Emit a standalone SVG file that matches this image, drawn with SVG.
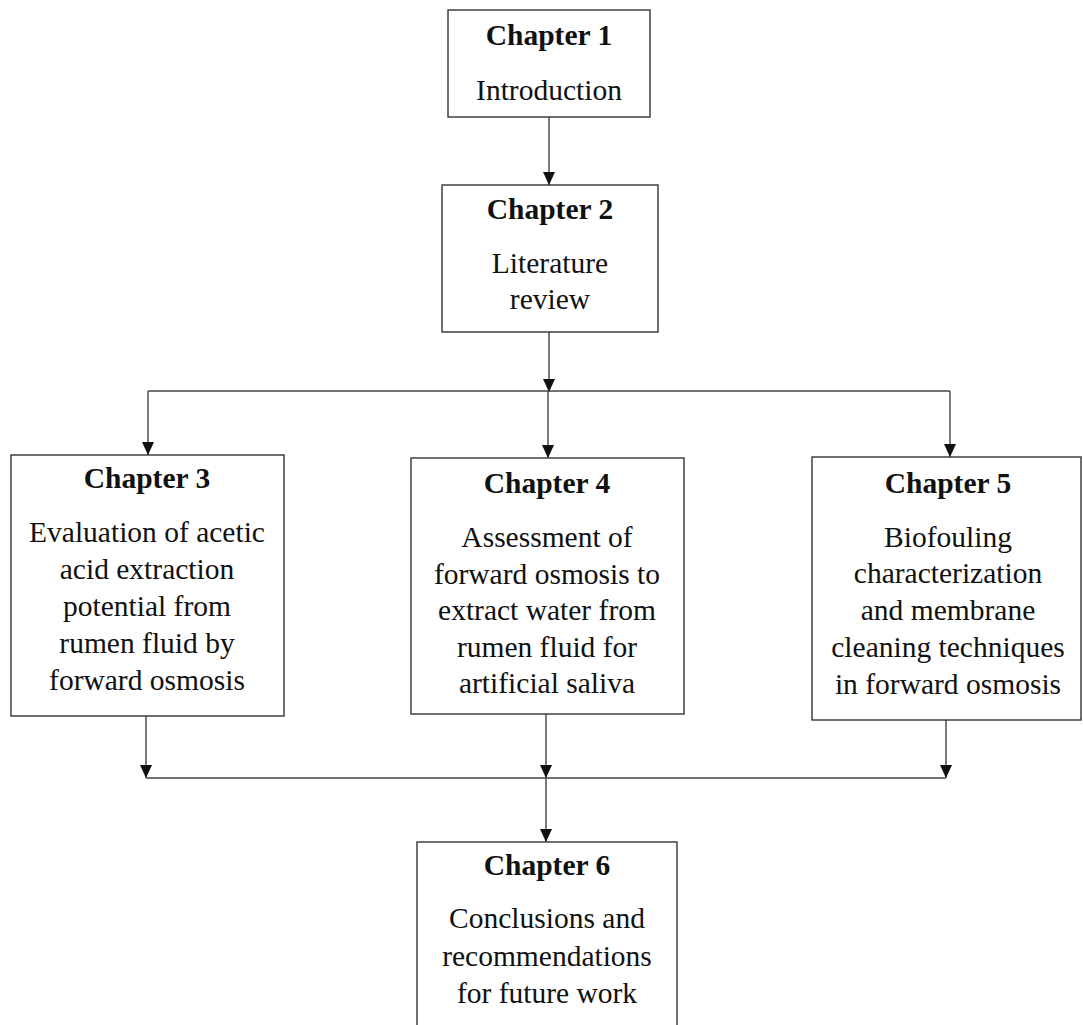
<svg xmlns="http://www.w3.org/2000/svg" width="1083" height="1025" viewBox="0 0 1083 1025">
<style>
.box{fill:#fff;stroke:#333;stroke-width:1.4}
.t{font-family:"Liberation Serif","Times New Roman",serif;font-size:29.5px;fill:#111;text-anchor:middle}
.h{font-weight:bold}
.c{fill:none;stroke:#444;stroke-width:1.4}
.a{marker-end:url(#arr)}
</style>
<defs>
<marker id="arr" markerUnits="userSpaceOnUse" markerWidth="13" markerHeight="12" viewBox="0 0 13 12" refX="13" refY="6" orient="auto">
<path d="M0,0 L13,6 L0,12 Z" fill="#111"/>
</marker>
</defs>
<rect width="1083" height="1025" fill="#fff"/>
<g id="connectors">
<line class="c a" x1="549" y1="117" x2="549" y2="185"/>
<line class="c a" x1="549" y1="332" x2="549" y2="392"/>
<line class="c" x1="148" y1="391" x2="950" y2="391"/>
<line class="c a" x1="148" y1="391" x2="148" y2="455"/>
<line class="c a" x1="548" y1="391" x2="548" y2="458"/>
<line class="c a" x1="950" y1="391" x2="950" y2="457"/>
<line class="c a" x1="146" y1="716" x2="146" y2="778"/>
<line class="c a" x1="546" y1="714" x2="546" y2="778"/>
<line class="c a" x1="946" y1="720" x2="946" y2="778"/>
<line class="c" x1="146" y1="778" x2="946" y2="778"/>
<line class="c a" x1="546" y1="778" x2="546" y2="842"/>
</g>
<g id="chapter1">
<rect class="box" x="448" y="10" width="202" height="107"/>
<text class="t h" x="549" y="45">Chapter 1</text>
<text class="t" x="549" y="100">Introduction</text>
</g>
<g id="chapter2">
<rect class="box" x="442" y="185" width="216" height="147"/>
<text class="t h" x="550" y="219">Chapter 2</text>
<text class="t" x="550" y="273">Literature</text>
<text class="t" x="550" y="309">review</text>
</g>
<g id="chapter3">
<rect class="box" x="11" y="455" width="273" height="261"/>
<text class="t h" x="147" y="488">Chapter 3</text>
<text class="t" x="147" y="542">Evaluation of acetic</text>
<text class="t" x="147" y="579">acid extraction</text>
<text class="t" x="147" y="616">potential from</text>
<text class="t" x="147" y="653">rumen fluid by</text>
<text class="t" x="147" y="690">forward osmosis</text>
</g>
<g id="chapter4">
<rect class="box" x="411" y="458" width="273" height="256"/>
<text class="t h" x="547" y="493">Chapter 4</text>
<text class="t" x="547" y="547">Assessment of</text>
<text class="t" x="547" y="584">forward osmosis to</text>
<text class="t" x="547" y="620">extract water from</text>
<text class="t" x="547" y="657">rumen fluid for</text>
<text class="t" x="547" y="693">artificial saliva</text>
</g>
<g id="chapter5">
<rect class="box" x="812" y="457" width="269" height="263"/>
<text class="t h" x="948" y="493">Chapter 5</text>
<text class="t" x="948" y="547">Biofouling</text>
<text class="t" x="948" y="583">characterization</text>
<text class="t" x="948" y="620">and membrane</text>
<text class="t" x="948" y="657">cleaning techniques</text>
<text class="t" x="948" y="694">in forward osmosis</text>
</g>
<g id="chapter6">
<rect class="box" x="417" y="842" width="260" height="200"/>
<text class="t h" x="547" y="875">Chapter 6</text>
<text class="t" x="547" y="928">Conclusions and</text>
<text class="t" x="547" y="966">recommendations</text>
<text class="t" x="547" y="1003">for future work</text>
</g>
</svg>
